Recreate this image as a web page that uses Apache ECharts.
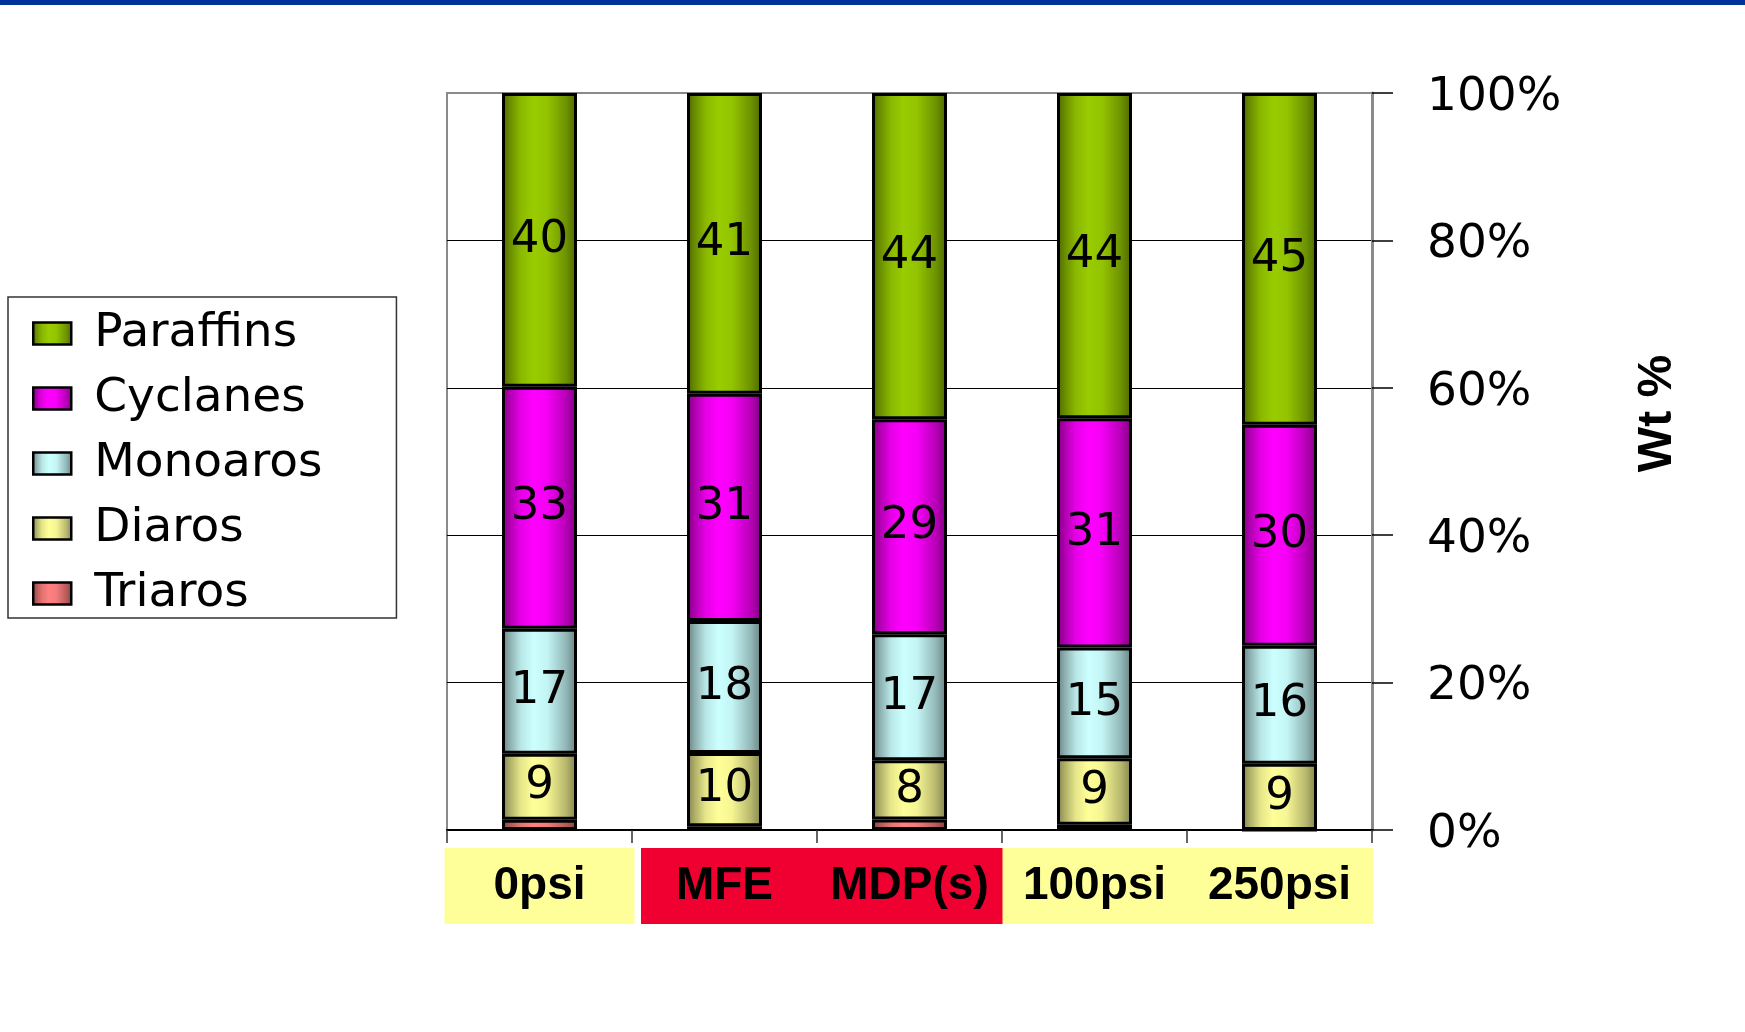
<!DOCTYPE html>
<html>
<head>
<meta charset="utf-8">
<title>Hydrocarbon group composition</title>
<script src="https://cdn.jsdelivr.net/npm/echarts@6/dist/echarts.min.js"></script>
<style>
  html, body { margin: 0; padding: 0; background: #fff; }
  #topband { position: absolute; left: 0; top: 0; width: 1745px; height: 5px; background: #003399; }
  #chart { position: absolute; left: 0; top: 0; width: 1745px; height: 1032px; }
</style>
</head>
<body>
<div id="chart"></div>
<div id="topband"></div>
<script>
// Sample conditions along the x axis
const categories = ['0psi', 'MFE', 'MDP(s)', '100psi', '250psi'];

// Hydrocarbon group contents, wt %
const paraffins = [40, 41, 44, 44, 45];
const cyclanes  = [33, 31, 29, 31, 30];
const monoaros  = [17, 18, 17, 15, 16];
const diaros    = [9, 10, 8, 9, 9];
const triaros   = [1.4, 0.5, 1.4, 0.7, 0];

// Legend order, top to bottom
const legendOrder = ['Paraffins', 'Cyclanes', 'Monoaros', 'Diaros', 'Triaros'];

// Background of each category label box
const labelBoxColors = ['#FFFF99', '#EF0030', '#EF0030', '#FFFF99', '#FFFF99'];

// Totals per column, used to draw the 100 % stacked bars
const totals = categories.map((_, i) =>
  paraffins[i] + cyclanes[i] + monoaros[i] + diaros[i] + triaros[i]);

function shade(hex, f) {
  const n = parseInt(hex.slice(1), 16);
  const r = Math.round(((n >> 16) & 255) * f);
  const g = Math.round(((n >> 8) & 255) * f);
  const b = Math.round((n & 255) * f);
  return 'rgb(' + r + ',' + g + ',' + b + ')';
}

// Horizontal shading that gives the columns a rounded, cylinder look
function cylinder(base) {
  return {
    type: 'linear', x: 0, y: 0, x2: 1, y2: 0,
    colorStops: [
      { offset: 0.00, color: shade(base, 0.50) },
      { offset: 0.10, color: shade(base, 0.68) },
      { offset: 0.25, color: shade(base, 0.90) },
      { offset: 0.42, color: shade(base, 1.00) },
      { offset: 0.60, color: shade(base, 0.96) },
      { offset: 0.85, color: shade(base, 0.72) },
      { offset: 1.00, color: shade(base, 0.50) }
    ]
  };
}

function makeSeries(name, values, base, showLabel) {
  return {
    name: name,
    type: 'bar',
    stack: 'total',
    barWidth: 75,
    data: values.map((v, i) => v / totals[i] * 100),
    itemStyle: { color: cylinder(base), borderColor: '#000', borderWidth: 3 },
    label: {
      show: showLabel,
      position: 'inside',
      color: '#000',
      fontFamily: 'DejaVu Sans',
      fontSize: 45,
      formatter: p => String(values[p.dataIndex])
    },
    emphasis: { disabled: true }
  };
}

const chart = echarts.init(document.getElementById('chart'));

const rich = {};
labelBoxColors.forEach((c, i) => {
  rich['c' + i] = {
    backgroundColor: c,
    width: [190, 167, 203, 184, 187][i],
    height: 76,
    lineHeight: 76,
    align: 'center',
    fontFamily: 'Liberation Sans',
    fontWeight: 'bold',
    fontSize: 46,
    color: '#000'
  };
});

chart.setOption({
  animation: false,
  backgroundColor: '#fff',
  grid: {
    left: 447, right: 373, top: 93, bottom: 202,
    show: true, borderColor: '#8a8a8a', borderWidth: 2, backgroundColor: '#fff'
  },
  legend: {
    orient: 'vertical',
    left: 8, top: 297,
    data: legendOrder,
    icon: 'rect',
    itemWidth: 38, itemHeight: 22, itemGap: 18,
    padding: [13, 74, 1, 24],
    borderColor: '#333', borderWidth: 1.5,
    itemStyle: { borderColor: '#000', borderWidth: 2.5 },
    textStyle: { fontFamily: 'DejaVu Sans', fontSize: 47, color: '#000', padding: [0, 0, 0, 18] },
    selectedMode: false
  },
  xAxis: {
    type: 'category',
    data: categories,
    axisLine: { lineStyle: { color: '#000', width: 2 } },
    axisTick: { show: true, length: 13, lineStyle: { color: '#333', width: 1.5 } },
    axisLabel: {
      margin: 18,
      interval: 0,
      formatter: (v, i) => '{c' + i + '|' + v + '}',
      rich: rich
    }
  },
  yAxis: {
    type: 'value',
    position: 'right',
    min: 0, max: 100, interval: 20,
    name: 'Wt %',
    nameLocation: 'middle',
    nameRotate: 90,
    nameGap: 262,
    nameTextStyle: {
      fontFamily: 'Liberation Sans', fontWeight: 'bold', fontSize: 48, color: '#000',
      padding: [0, 0, 0, 96]
    },
    axisLine: { show: true, lineStyle: { color: '#8a8a8a', width: 3 } },
    axisTick: { show: true, inside: false, length: 21, lineStyle: { color: '#000', width: 1.5 } },
    axisLabel: {
      margin: 55,
      formatter: '{p|{value}%}',
      rich: {
        p: {
          color: '#000',
          fontFamily: 'DejaVu Sans',
          fontSize: 47,
          padding: [9, 0, 0, 0]
        }
      }
    },
    splitLine: { show: true, showMinLine: false, showMaxLine: false, lineStyle: { color: '#000', width: 1 } }
  },
  series: [
    makeSeries('Triaros', triaros, '#FF8080', false),
    makeSeries('Diaros', diaros, '#FFFF99', true),
    makeSeries('Monoaros', monoaros, '#CCFFFF', true),
    makeSeries('Cyclanes', cyclanes, '#FF00FF', true),
    makeSeries('Paraffins', paraffins, '#99CC00', true)
  ]
});
</script>
</body>
</html>
